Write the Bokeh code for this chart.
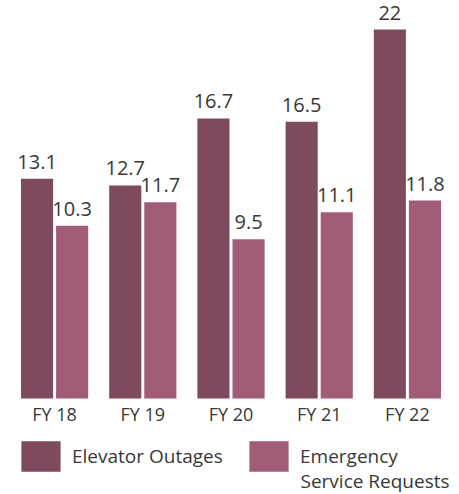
from bokeh.plotting import figure
from bokeh.models import ColumnDataSource, FactorRange, Range1d, Legend, LegendItem, Label
from bokeh.transform import dodge
from bokeh.core.properties import value
from bokeh.embed import file_html
from bokeh.resources import INLINE

years = ["FY 18", "FY 19", "FY 20", "FY 21", "FY 22"]
outages = [13.1, 12.7, 16.7, 16.5, 22]
requests = [10.3, 11.7, 9.5, 11.1, 11.8]
series_names = ["Elevator Outages", "Emergency", "Service Requests"]

DARK = "#7E4A5E"
LIGHT = "#A15C77"
TEXT = "#383838"
FONT = "Open Sans"

src = ColumnDataSource(dict(
    year=years,
    outages=outages,
    requests=requests,
    base=[0] * len(years),
    out_lbl=[f"{v:g}" for v in outages],
    req_lbl=[f"{v:g}" for v in requests],
))

# frame spans the whole picture; the bars' baseline sits 96px above its bottom
p = figure(x_range=FactorRange(*years, range_padding=0), y_range=Range1d(-5.724, 23.73),
           frame_width=441, frame_height=494, output_backend="svg",
           toolbar_location=None, min_border_left=10, min_border_right=8,
           min_border_top=0, min_border_bottom=0)
p.outline_line_color = None
p.grid.visible = False
p.axis.visible = False
p.background_fill_color = "white"

off = 0.199
bw = 0.364
r1 = p.vbar(x=dodge("year", -off, range=p.x_range), top="outages", width=bw,
            source=src, fill_color=DARK, line_color=None)
r2 = p.vbar(x=dodge("year", off, range=p.x_range), top="requests", width=bw,
            source=src, fill_color=LIGHT, line_color=None)

p.text(x=dodge("year", -off, range=p.x_range), y="outages", text="out_lbl", source=src,
       text_align="center", text_baseline="alphabetic", y_offset=-17,
       text_font=value(FONT), text_font_size="20px", text_color=TEXT)
p.text(x=dodge("year", off, range=p.x_range), y="requests", text="req_lbl", source=src,
       text_align="center", text_baseline="alphabetic", y_offset=-17,
       text_font=value(FONT), text_font_size="20px", text_color=TEXT)

# category labels under each group
p.text(x="year", y="base", text="year", source=src,
       text_align="center", text_baseline="top", y_offset=4,
       text_font=value(FONT), text_font_size="18px", text_color=TEXT)

common = dict(orientation="horizontal", glyph_width=49, glyph_height=38,
              label_standoff=7, padding=0, margin=0, border_line_color=None,
              background_fill_alpha=0, label_text_font=FONT,
              label_text_font_size="19px", label_text_color=TEXT,
              label_text_baseline="middle")
leg1 = Legend(items=[LegendItem(label=series_names[0], renderers=[r1])],
              location=(6, 19), **common)
leg2 = Legend(items=[LegendItem(label=series_names[1], renderers=[r2])],
              location=(234, 19), **common)
p.add_layout(leg1, "center")
p.add_layout(leg2, "center")
p.add_layout(Label(x=290, y=14, x_units="screen", y_units="screen",
                   text=series_names[2], text_font=FONT, text_font_size="19px",
                   text_color=TEXT, text_baseline="alphabetic"))

open("out.html", "w").write(file_html(p, INLINE))
